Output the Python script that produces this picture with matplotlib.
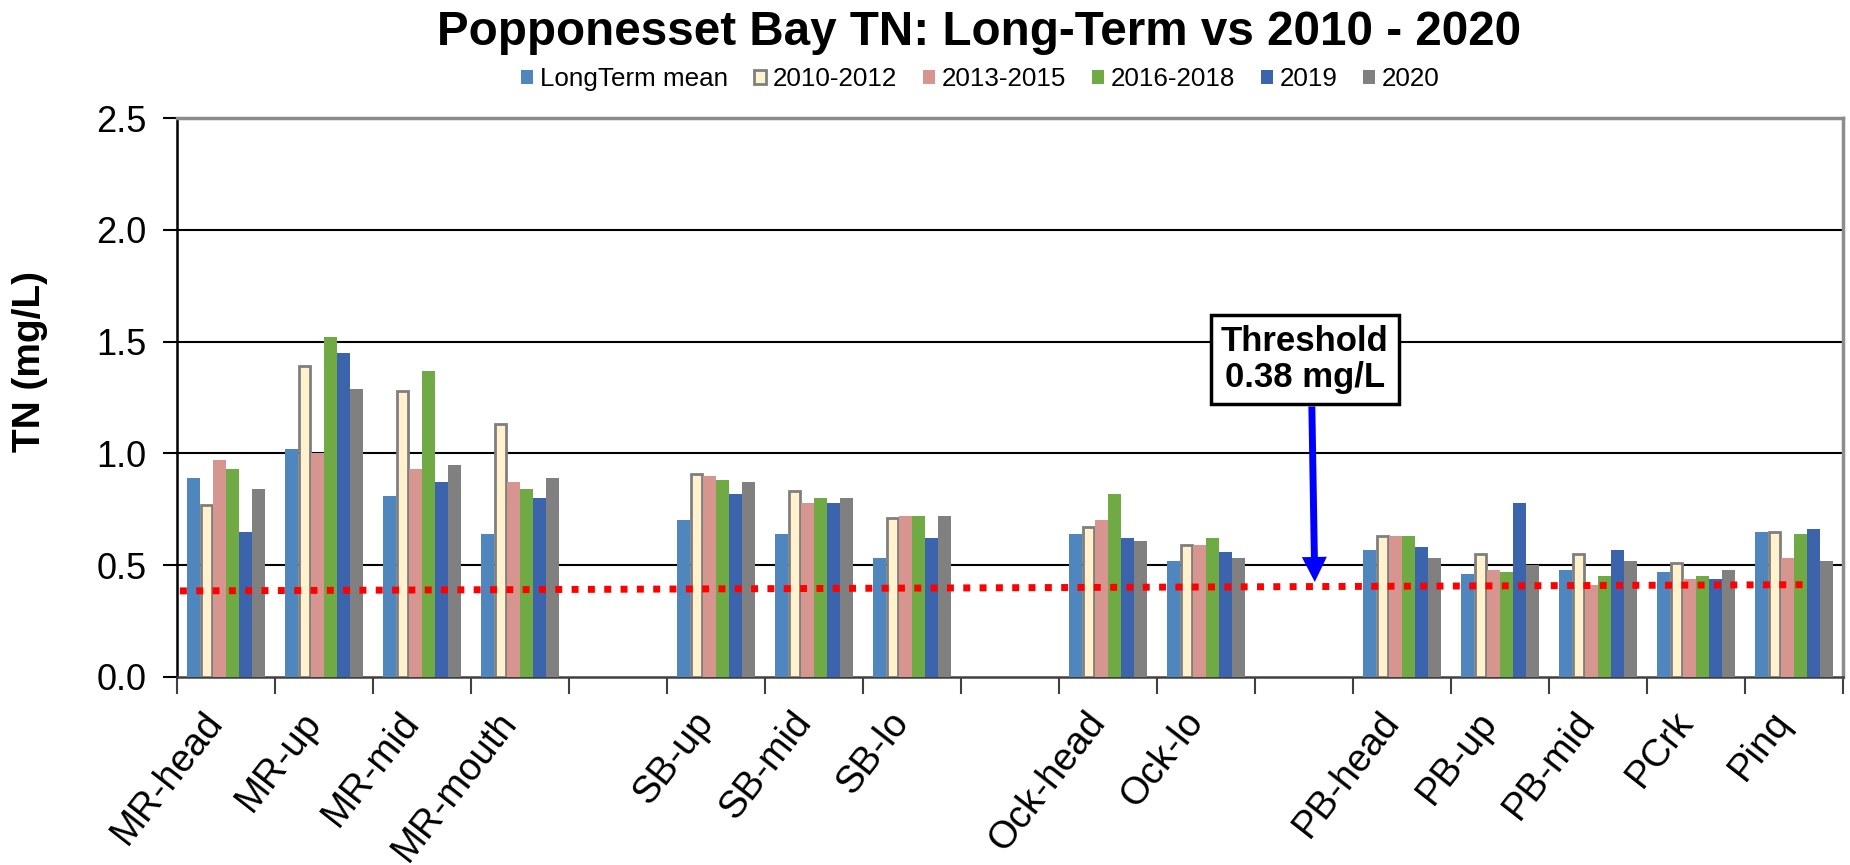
import numpy as np
import matplotlib
matplotlib.use("Agg")
import matplotlib.pyplot as plt
from matplotlib.patches import Patch
from matplotlib.transforms import ScaledTranslation

plt.rcParams['font.family'] = ['Liberation Sans', 'DejaVu Sans']

nan = np.nan
categories = ["MR-head", "MR-up", "MR-mid", "MR-mouth", "", "SB-up", "SB-mid", "SB-lo", "",
              "Ock-head", "Ock-lo", "", "PB-head", "PB-up", "PB-mid", "PCrk", "Pinq"]
series_names = ["LongTerm mean", "2010-2012", "2013-2015", "2016-2018", "2019", "2020"]
longterm = [0.89, 1.02, 0.81, 0.64, nan, 0.70, 0.64, 0.53, nan, 0.64, 0.52, nan, 0.57, 0.46, 0.48, 0.47, 0.65]
y2010_2012 = [0.77, 1.39, 1.28, 1.13, nan, 0.91, 0.83, 0.71, nan, 0.67, 0.59, nan, 0.63, 0.55, 0.55, 0.51, 0.65]
y2013_2015 = [0.97, 1.00, 0.93, 0.87, nan, 0.90, 0.78, 0.72, nan, 0.70, 0.59, nan, 0.63, 0.48, 0.41, 0.44, 0.53]
y2016_2018 = [0.93, 1.52, 1.37, 0.84, nan, 0.88, 0.80, 0.72, nan, 0.82, 0.62, nan, 0.63, 0.47, 0.45, 0.45, 0.64]
y2019 = [0.65, 1.45, 0.87, 0.80, nan, 0.82, 0.78, 0.62, nan, 0.62, 0.56, nan, 0.58, 0.78, 0.57, 0.44, 0.66]
y2020 = [0.84, 1.29, 0.95, 0.89, nan, 0.87, 0.80, 0.72, nan, 0.61, 0.53, nan, 0.53, 0.50, 0.52, 0.48, 0.52]
series = [longterm, y2010_2012, y2013_2015, y2016_2018, y2019, y2020]

threshold_x = [-0.47, 16.15]
threshold_y = [0.385, 0.413]
yticks = [0.0, 0.5, 1.0, 1.5, 2.0, 2.5]

colors = ["#4F86BE", "#FFF2CC", "#D6968F", "#70AA45", "#3C64AD", "#808080"]
edges = ["none", "#7F7F7F", "none", "none", "none", "none"]
lws = [0, 2.0, 0, 0, 0, 0]

fig = plt.figure(figsize=(18.5, 8.65), dpi=100)
ax = fig.add_axes([177/1850, 1-677/865, (1843-177)/1850, (677-118)/865])

n = len(categories)
x = np.arange(n)
group_w = 0.805
bw = group_w / 6
for i, (vals, c, ec, lw) in enumerate(zip(series, colors, edges, lws)):
    off = (i - 2.5) * bw
    v = np.array(vals, dtype=float)
    ax.bar(x + off, v, width=bw if lw == 0 else bw - 0.02, color=c, edgecolor=ec,
           linewidth=lw, zorder=3, label=series_names[i])

ax.set_xlim(-0.5, n - 0.5)
ax.set_ylim(0, 2.5)
ax.set_yticks(yticks)
ax.set_yticklabels([f"{t:.1f}" for t in yticks], fontsize=26)
for t in yticks[1:-1]:
    ax.axhline(t, color="black", lw=1.5, zorder=1)

ax.set_xticks(np.arange(n + 1) - 0.5)
ax.set_xticklabels([])
ax.set_xticks(x, minor=True)
ax.set_xticklabels(categories, minor=True, rotation=52, ha='right', va='top',
                   rotation_mode='anchor', fontsize=27.5)
ax.tick_params(axis='x', which='minor', length=0, pad=20)
ax.tick_params(axis='x', which='major', length=12, width=1.5, color='#404040')
ax.tick_params(axis='y', length=10, width=1.5, pad=12)
shift = ScaledTranslation(-24/100, 0, fig.dpi_scale_trans)
for lab in ax.get_xticklabels(minor=True):
    lab.set_transform(lab.get_transform() + shift)

ax.spines['left'].set_color('black')
ax.spines['left'].set_linewidth(1.8)
ax.spines['bottom'].set_color('#404040')
ax.spines['bottom'].set_linewidth(1.8)
ax.spines['top'].set_color('#8C8C8C')
ax.spines['top'].set_linewidth(2.5)
ax.spines['right'].set_color('#8C8C8C')
ax.spines['right'].set_linewidth(2.5)

fig.text(30/1850, 1-362/865, "TN (mg/L)", fontsize=28, fontweight='bold',
         rotation=90, ha='center', va='center')

# threshold line
ax.plot(threshold_x, threshold_y, color='#FF0000', lw=5, linestyle=(0, (1.0, 1.35)),
        solid_capstyle='butt', dash_capstyle='butt', zorder=4)

# annotation
ax.annotate("", xy=(11.11, 0.425), xytext=(11.08, 1.21),
            arrowprops=dict(facecolor='#0000FF', edgecolor='#0000FF', width=5,
                            headwidth=18, headlength=18, linewidth=0, shrink=0), zorder=6)
ax.text(11.01, 1.42, "Threshold\n0.38 mg/L", fontsize=25, fontweight='bold',
        ha='center', va='center', linespacing=1.1, zorder=7,
        bbox=dict(boxstyle='square,pad=0.3', facecolor='white', edgecolor='black', linewidth=2.5))

fig.text(0.529, 0.962, "Popponesset Bay TN: Long-Term vs 2010 - 2020", fontsize=34.3,
         fontweight='bold', ha='center', va='center')

handles = [Patch(facecolor=c, edgecolor=(ec if ec != "none" else c), linewidth=(2 if lw else 0))
           for c, ec, lw in zip(colors, edges, lws)]
fig.legend(handles, series_names, loc='center', bbox_to_anchor=(0.530, 0.9085), ncol=6,
           frameon=False, fontsize=18.7, handlelength=0.46, handleheight=0.46,
           handletextpad=0.26, columnspacing=1.0)

fig.savefig("out.png", dpi=100)
